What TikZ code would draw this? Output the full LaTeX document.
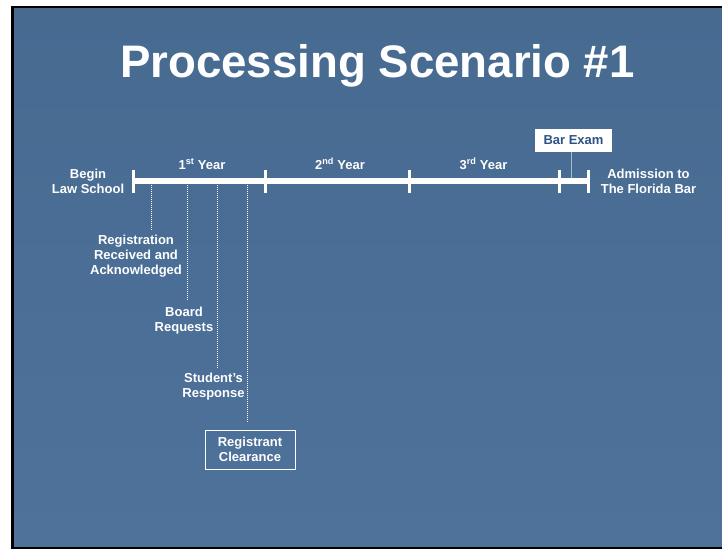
\documentclass[tikz,border=0pt]{standalone}
\usepackage{fontspec}
\setmainfont{Liberation Sans}
\usetikzlibrary{calc}
\definecolor{bgtop}{HTML}{476A91}
\definecolor{bgbot}{HTML}{4F729B}
\definecolor{barblue}{HTML}{2E5282}
\definecolor{connect}{HTML}{A8BACF}
\begin{document}
\begin{tikzpicture}[x=1pt,y=-1pt,
  every node/.style={inner sep=0pt},
  lbl/.style={text=white, align=center, anchor=north, font=\bfseries\fontsize{13}{15}\selectfont},
  yearlbl/.style={text=white, anchor=base, font=\bfseries\fontsize{13}{15}\selectfont},
  tline/.style={white, line width=5.5pt},
  tick/.style={white, line width=3pt},
  dotline/.style={white, line width=1pt, dash pattern=on 1pt off 1pt},
  thinconn/.style={connect, line width=1pt},
  whitebox/.style={fill=white, text=barblue, minimum width=77pt, minimum height=23pt, font=\bfseries\fontsize{13}{15}\selectfont},
  outlinebox/.style={draw=white, line width=0.8pt, text=white, align=center, minimum width=90pt, minimum height=39pt, font=\bfseries\fontsize{13}{15}\selectfont}]
\useasboundingbox (0,0) rectangle (722,550);
% slide frame and background
\fill[white] (0,0) rectangle (722,550);
\fill[black] (11,6) rectangle (722,549);
\shade[top color=bgtop, bottom color=bgbot] (14,8) rectangle (722,546);
% title
\node[text=white, anchor=base, font=\bfseries\fontsize{45.6}{50}\selectfont] (title) at (377.5,77) {Processing Scenario \#1};
% timeline coordinates
\coordinate (t0) at (133,181);
\coordinate (t1) at (265,181);
\coordinate (t2) at (409,181);
\coordinate (t3) at (559,181);
\coordinate (t4) at (588.5,181);
\draw[tline] (t0) -- (t4);
\foreach \t in {t0,t1,t2,t3,t4}{
  \draw[tick] ($(\t)+(0,-11)$) -- ($(\t)+(0,12)$);
}
% year labels
\node[yearlbl] (y1) at (202,169) {1\textsuperscript{st} Year};
\node[yearlbl] (y2) at (340,169) {2\textsuperscript{nd} Year};
\node[yearlbl] (y3) at (483.5,169) {3\textsuperscript{rd} Year};
% end labels
\node[lbl] (begin) at (88,168.5) {Begin\\Law School};
\node[lbl] (admit) at (648.5,168.5) {Admission to\\The Florida Bar};
% bar exam
\node[whitebox] (bar) at (573.5,140.5) {Bar Exam};
\coordinate (bx) at (571,178);
\draw[thinconn] (bx |- bar.south) -- (bx);
% event labels
\node[lbl] (reg) at (136,234.5) {Registration\\Received and\\Acknowledged};
\node[lbl] (board) at (184,306.5) {Board\\Requests};
\node[lbl] (resp) at (213.5,373.2) {Student’s\\Response};
\node[outlinebox] (clear) at (250,449.7) {Registrant\\Clearance};
% dotted connectors
\coordinate (d1) at (151,185);
\coordinate (d2) at (187,185);
\coordinate (d3) at (217,185);
\coordinate (d4) at (247,185);
\draw[dotline, shorten >=4.5pt] (d1) -- (d1 |- reg.north);
\draw[dotline, shorten >=6.5pt] (d2) -- (d2 |- board.north);
\draw[dotline, shorten >=6pt] (d3) -- (d3 |- resp.north);
\draw[dotline, shorten >=8pt] (d4) -- (d4 |- clear.north);
\end{tikzpicture}
\end{document}
